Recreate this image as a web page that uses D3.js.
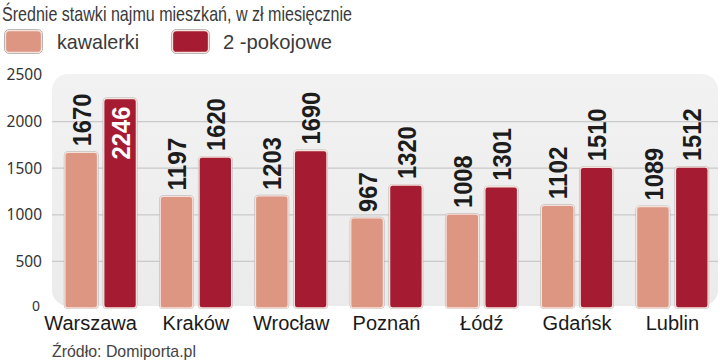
<!DOCTYPE html>
<html><head><meta charset="utf-8">
<script src="https://cdn.jsdelivr.net/npm/d3@7"></script>
<style>body{margin:0;background:#fff}svg{display:block}</style>
</head><body>
<script>
const title = "Średnie stawki najmu mieszkań, w zł miesięcznie";
const source = "Źródło: Domiporta.pl";
const cities = ["Warszawa","Kraków","Wrocław","Poznań","Łódź","Gdańsk","Lublin"];
const seriesNames = ["kawalerki","2 -pokojowe"];
const kawalerki = [1670,1197,1203,967,1008,1102,1089];
const pokojowe2 = [2246,1620,1690,1320,1301,1510,1512];
const yTicks = [0,500,1000,1500,2000,2500];
const colors = ["#dc9682","#a51c32"];

const W=720,H=361;
const svg=d3.select("body").append("svg").attr("width",W).attr("height",H);
const defs=svg.append("defs");
const grad=defs.append("linearGradient").attr("id","pg").attr("x1",0).attr("y1",0).attr("x2",0).attr("y2",1);
grad.append("stop").attr("offset","0").attr("stop-color","#f2f2f2");
grad.append("stop").attr("offset","1").attr("stop-color","#ebebeb");

const y=d3.scaleLinear().domain([0,2500]).range([308,75]);
const x0=d3.scaleBand().domain(cities).range([53,720]).paddingInner(0.25).paddingOuter(0.125);
const x1=d3.scaleBand().domain(seriesNames).range([0,x0.bandwidth()]).paddingInner(0.16).paddingOuter(0);

const LIGHT="Liberation Sans, Arial, sans-serif";

// panel
svg.append("rect").attr("x",52).attr("y",y(2500)-1).attr("width",666).attr("height",y(0)-y(2500)-1)
  .attr("rx",16).attr("fill","url(#pg)");

// grid
svg.append("g").selectAll("line").data(yTicks.filter(d=>d>0&&d<2500)).join("line")
  .attr("x1",52).attr("x2",718).attr("y1",d=>y(d)).attr("y2",d=>y(d))
  .attr("stroke","#c9c9c9").attr("stroke-width",1.2);

// y axis labels
svg.append("g").selectAll("text").data(yTicks).join("text")
  .attr("x",d=>d===0?40:42).attr("y",d=>d===0?y(d)-2:y(d)).attr("dy","0.35em")
  .attr("text-anchor","end").attr("font-family","Noto Sans").attr("font-size",d=>d===0?14:15.5)
  .attr("fill","#333").text(d=>d);

const data=cities.map((c,i)=>({city:c,vals:[{s:seriesNames[0],v:kawalerki[i],k:0},{s:seriesNames[1],v:pokojowe2[i],k:1}]}));

const groups=svg.append("g").selectAll("g").data(data).join("g")
  .attr("transform",d=>`translate(${x0(d.city)},0)`);

function barPath(x,yt,w,yb,r){
  return `M${x},${yb-r}L${x},${yt+r}Q${x},${yt} ${x+r},${yt}L${x+w-r},${yt}Q${x+w},${yt} ${x+w},${yt+r}L${x+w},${yb-r}Q${x+w},${yb} ${x+w-r},${yb}L${x+r},${yb}Q${x},${yb} ${x},${yb-r}Z`;
}
const bars=groups.selectAll("g.b").data(d=>d.vals).join("g").attr("class","b");
bars.append("path").attr("d",d=>barPath(x1(d.s)-0.5,y(d.v)-0.5,x1.bandwidth()+1,y(0)+0.5,4))
  .attr("fill","none").attr("stroke","#9a9a9a").attr("stroke-width",1.2).attr("opacity",0.7);
bars.append("path").attr("d",d=>barPath(x1(d.s),y(d.v),x1.bandwidth(),y(0),3))
  .attr("fill",d=>colors[d.k]).attr("stroke","#f6e2dc").attr("stroke-width",1.3);

// value labels
bars.each(function(d){
  const g=d3.select(this);
  const inside = d.v>2100;
  const cx=x1(d.s)+x1.bandwidth()/2;
  const yy= inside ? y(d.v)+8 : y(d.v)-6;
  const s=String(d.v);
  g.append("text")
    .attr("transform",`translate(${cx},${yy}) rotate(-90)`)
    .attr("dy","0.37em")
    .attr("text-anchor",inside?"end":"start")
    .attr("font-family","Liberation Sans, Arial, sans-serif")
    .attr("font-weight","bold").attr("font-size",26)
    .attr("textLength",s.length*13.2).attr("lengthAdjust","spacingAndGlyphs")
    .attr("fill",inside?"#fff":"#1c1c1c")
    .text(s);
});

// category labels
svg.append("g").selectAll("text").data(cities).join("text")
  .attr("x",(d,i)=>x0(d)+x0.bandwidth()/2-(i===0?10:0)).attr("y",330)
  .attr("text-anchor","middle").attr("font-family",LIGHT)
  .attr("font-size",20).attr("fill","#1a1a1a").text(d=>d);

// title
svg.append("text").attr("x",2).attr("y",21).attr("font-family",LIGHT)
  .attr("font-size",21).attr("fill","#3a3a3a")
  .attr("textLength",350).attr("lengthAdjust","spacingAndGlyphs").text(title);

// legend
const legX=[5,172];
const legTextX=[57,223];
const legLen=[82,109];
const leg=svg.append("g").selectAll("g").data(seriesNames).join("g");
leg.append("rect").attr("x",(d,i)=>legX[i]-0.5).attr("y",29.5).attr("width",38).attr("height",24).attr("rx",5)
  .attr("fill","none").attr("stroke","#aaa").attr("stroke-width",1);
leg.append("rect").attr("x",(d,i)=>legX[i]+0.5).attr("y",30.5).attr("width",36).attr("height",22).attr("rx",4)
  .attr("fill",(d,i)=>colors[i]).attr("stroke","#f6e2dc").attr("stroke-width",1.3);
leg.append("text").attr("x",(d,i)=>legTextX[i]).attr("y",49).attr("font-family",LIGHT)
  .attr("font-size",21).attr("fill","#3a3a3a")
  .attr("textLength",(d,i)=>legLen[i]).attr("lengthAdjust","spacingAndGlyphs").text(d=>d);

// source
svg.append("text").attr("x",52).attr("y",357).attr("font-family",LIGHT)
  .attr("font-size",17).attr("fill","#444")
  .attr("textLength",144).attr("lengthAdjust","spacingAndGlyphs").text(source);
</script>
</body></html>
